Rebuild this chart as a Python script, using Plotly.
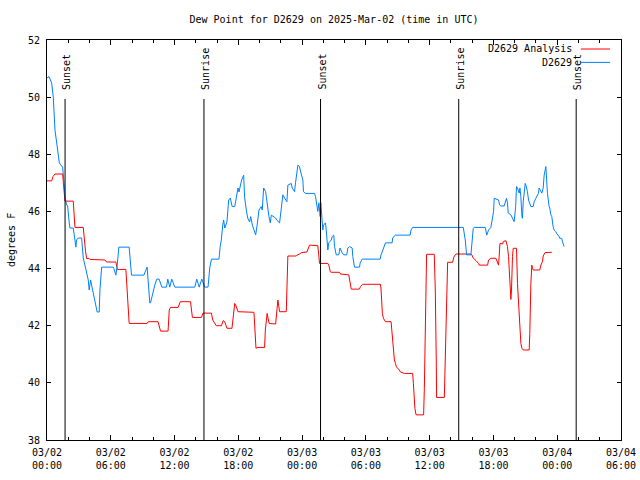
import pandas as pd
import plotly.graph_objects as go

START = pd.Timestamp("2025-03-02 00:00")

# D2629 observations: hours after 2025-03-02 00:00 UTC, dew point (F)
obs_hours = [0.00, 0.19, 0.44, 0.59, 0.75, 0.91, 1.06, 1.16, 1.29, 1.47, 1.60, 1.69, 1.85, 1.94, 2.09, 2.16,
             2.47, 2.63, 2.72, 2.78, 2.94, 3.26, 3.41, 3.63, 3.88, 3.97, 4.10, 4.20, 4.29, 4.51, 4.60, 4.72,
             4.91, 4.98, 5.14, 6.23, 6.29, 6.48, 6.60, 6.76, 7.73, 7.95, 9.11, 9.42, 9.67, 9.74, 10.14, 10.33,
             10.55, 10.80, 11.24, 11.36, 11.55, 11.74, 12.02, 13.90, 14.09, 14.32, 14.56, 14.74, 14.84, 15.15,
             15.31, 15.47, 16.18, 16.29, 16.40, 16.53, 16.62, 16.72, 16.93, 17.09, 17.25, 17.32, 17.42, 17.66,
             17.80, 17.97, 18.06, 18.19, 18.31, 18.50, 18.59, 18.75, 18.88, 19.06, 19.16, 19.32, 19.44, 19.63,
             19.77, 19.84, 19.94, 20.16, 20.25, 20.38, 20.57, 20.63, 20.78, 20.88, 21.01, 21.10, 21.51, 21.60,
             21.88, 22.04, 22.19, 22.35, 22.57, 22.66, 22.98, 23.07, 23.29, 23.38, 23.51, 23.60, 23.76, 23.82,
             24.07, 24.13, 24.32, 25.17, 25.26, 25.48, 25.58, 25.70, 25.76, 25.83, 25.95, 26.01, 26.20, 26.27,
             26.42, 26.51, 26.74, 26.83, 26.98, 27.05, 27.21, 27.45, 27.57, 27.77, 27.92, 28.20, 28.30, 28.46,
             28.71, 28.77, 28.93, 29.40, 29.46, 29.65, 31.34, 31.43, 31.74, 31.84, 32.47, 32.52, 32.68, 32.78,
             34.16, 34.25, 34.40, 39.16, 39.35, 39.47, 39.88, 40.10, 40.19, 41.23, 41.37, 41.54, 41.76, 41.86,
             42.01, 42.07, 42.48, 42.59, 42.70, 43.01, 43.10, 43.23, 43.32, 43.39, 43.64, 43.86, 43.95, 44.09,
             44.17, 44.26, 44.42, 44.49, 44.58, 44.68, 44.73, 44.80, 44.99, 45.08, 45.20, 45.30, 45.52, 45.74,
             45.83, 45.99, 46.05, 46.23, 46.30, 46.46, 46.55, 46.68, 46.77, 46.93, 46.99, 47.08, 47.24, 47.30,
             47.40, 47.49, 47.61, 47.71, 47.87, 47.92, 48.18, 48.24, 48.43, 48.49, 48.65]
obs_values = [50.67, 50.72, 50.49, 50.0, 48.85, 48.4, 48.05, 47.7, 47.63, 47.55, 47.0, 46.5, 46.22, 46.2, 45.6, 45.42,
              45.42, 44.93, 44.75, 45.0, 45.07, 45.07, 44.37, 44.02, 43.6, 43.25, 43.6, 43.42, 43.25, 42.9, 42.72, 42.48,
              42.48, 43.25, 44.05, 44.05, 44.0, 43.77, 44.1, 44.75, 44.75, 43.77, 43.77, 44.05, 42.8, 42.8, 43.42, 43.63,
              43.63, 43.35, 43.35, 43.63, 43.35, 43.63, 43.35, 43.35, 43.63, 43.35, 43.63, 43.42, 43.35, 43.35,
              44.02, 44.33, 44.33, 44.77, 45.0, 45.52, 45.7, 45.42, 45.63, 46.4, 46.47, 46.33, 46.17, 46.17,
              46.5, 46.82, 46.68, 46.87, 47.1, 47.27, 46.5, 46.05, 45.77, 45.63, 45.82, 45.52, 45.35, 45.18,
              45.52, 45.7, 46.05, 46.17, 46.05, 46.82, 46.69, 46.52, 46.05, 45.82, 45.6, 45.87, 45.77, 45.7,
              45.6, 46.17, 46.58, 46.47, 46.34, 46.92, 46.98, 46.82, 46.69, 47.0, 47.34, 47.62, 47.57, 47.45,
              47.1, 46.69, 46.63, 46.63, 46.52, 46.0, 46.3, 45.82, 46.3, 45.82, 45.35, 45.52, 45.6, 45.35,
              44.65, 44.9, 45.0, 45.12, 45.17, 44.77, 44.48, 44.48, 44.72, 44.55, 44.48, 44.48, 44.72, 44.77,
              44.72, 44.42, 44.05, 44.05, 44.2, 44.33, 44.33, 44.48, 44.77, 44.9, 44.9, 45.07, 45.14, 45.17,
              45.17, 45.35, 45.44, 45.44, 45.0, 44.48, 44.48, 45.41, 45.44, 45.44, 45.17, 45.35, 45.44, 45.64,
              45.99, 46.46, 46.4, 46.22, 46.19, 46.19, 46.34, 46.46, 46.3, 45.95, 45.88, 45.7, 45.64, 46.17,
              46.87, 46.82, 46.64, 46.82, 46.52, 45.82, 45.76, 46.34, 46.98, 46.89, 46.69, 46.4, 46.17, 46.17,
              46.34, 46.46, 46.52, 46.63, 46.82, 46.69, 46.64, 46.82, 47.27, 47.57, 47.22, 46.63, 46.17, 46.12,
              45.88, 45.82, 45.47, 45.35, 45.29, 45.24, 45.12, 45.06, 45.06, 44.94, 44.77]

# D2629 Analysis: hours after 2025-03-02 00:00 UTC, dew point (F)
ana_hours = [0.00, 0.44, 0.56, 0.75, 1.47, 1.53, 1.60, 1.69, 2.47, 2.63, 3.41, 3.63, 3.73, 3.97, 4.04, 5.45,
             5.61, 6.48, 6.62, 7.42, 7.56, 7.64, 7.73, 9.42, 9.53, 10.45, 10.68, 11.39, 11.50, 11.62, 12.33, 12.54,
             13.50, 13.68, 14.53, 14.68, 15.47, 15.59, 15.78, 15.92, 16.41, 16.58, 16.72, 16.86, 16.93, 17.40,
             17.53, 17.66, 17.75, 17.89, 17.97, 19.47, 19.58, 19.66, 19.84, 20.47, 20.54, 20.63, 20.71, 20.80,
             20.90, 21.51, 21.60, 21.72, 21.79, 21.88, 22.51, 22.57, 22.66, 23.45, 23.52, 23.76, 23.95, 24.45,
             24.57, 24.70, 25.48, 25.54, 25.64, 26.42, 26.51, 26.65, 26.74, 27.52, 27.61, 28.39, 28.46, 28.62,
             29.39, 29.49, 29.70, 31.37, 31.43, 31.55, 31.65, 31.84, 32.37, 32.43, 32.59, 32.68, 32.78, 32.87,
             33.15, 33.25, 33.62, 34.40, 34.47, 34.61, 34.72, 35.43, 35.50, 35.59, 35.66, 35.71, 36.43, 36.53,
             36.62, 36.65, 37.38, 37.42, 37.52, 37.59, 37.69, 38.16, 38.27, 38.41, 38.48, 39.88, 39.97, 40.10,
             40.29, 40.38, 40.60, 40.66, 41.45, 41.54, 41.76, 42.23, 42.29, 42.48, 42.54, 42.61, 42.86, 42.92,
             43.17, 43.23, 43.32, 43.42, 43.48, 43.55, 43.64, 43.70, 43.73, 43.79, 43.86, 44.17, 44.26, 44.38,
             44.49, 44.58, 44.68, 44.80, 45.36, 45.42, 45.52, 45.61, 45.67, 45.74, 46.36, 46.46, 46.61, 46.68,
             46.86, 47.49]
ana_values = [47.07, 47.07, 47.22, 47.31, 47.31, 46.82, 46.75, 46.36, 46.36, 45.44, 45.44, 44.59, 44.35, 44.35, 44.32, 44.3,
              44.23, 44.23, 43.97, 43.97, 43.25, 42.55, 42.08, 42.08, 42.14, 42.14, 41.81, 41.81, 42.55, 42.64, 42.64, 42.84,
              42.84, 42.29, 42.29, 42.44, 42.44, 42.2, 42.08, 42.0, 42.0, 42.18, 42.14, 41.97, 41.91, 41.91,
              42.32, 42.78, 42.72, 42.58, 42.49, 42.47, 41.85, 41.21, 41.24, 41.24, 41.85, 42.32, 42.43, 42.26,
              42.08, 42.06, 42.49, 42.9, 42.72, 42.49, 42.49, 43.95, 44.44, 44.44, 44.47, 44.51, 44.56, 44.58,
              44.71, 44.82, 44.8, 44.48, 44.18, 44.18, 44.12, 43.89, 43.87, 43.87, 43.81, 43.78, 43.6, 43.28,
              43.28, 43.37, 43.45, 43.45, 43.25, 42.43, 42.26, 42.14, 42.14, 41.85, 41.38, 40.8, 40.68, 40.56,
              40.45, 40.38, 40.33, 40.33, 39.98, 39.11, 38.88, 38.88, 39.81, 41.73, 43.53, 44.5, 44.5, 43.25,
              40.8, 39.49, 39.49, 40.27, 41.85, 43.48, 44.22, 44.22, 44.4, 44.48, 44.51, 44.51, 44.48, 44.37,
              44.32, 44.27, 44.18, 44.12, 44.12, 44.3, 44.36, 44.36, 44.3, 44.12, 44.42, 44.88, 44.86, 44.94,
              44.98, 44.9, 44.77, 44.42, 43.83, 43.5, 42.92, 43.25, 43.83, 44.42, 44.71, 44.71, 43.48, 42.55,
              41.73, 41.38, 41.21, 41.15, 41.15, 41.73, 43.48, 44.12, 44.01, 43.95, 43.95, 44.12, 44.24, 44.44,
              44.56, 44.57]

# Sun events (UTC)
sun_labels = ["Sunset", "Sunrise", "Sunset", "Sunrise", "Sunset"]
sun_times = ["2025-03-02 01:42", "2025-03-02 14:46", "2025-03-03 01:44", "2025-03-03 14:44", "2025-03-04 01:47"]

series_names = ["D2629 Analysis", "D2629"]
series_colors = ["#ff0000", "#0080ff"]

FONT = "DejaVu Sans Mono"

obs_t = START + pd.to_timedelta(obs_hours, unit="h")
ana_t = START + pd.to_timedelta(ana_hours, unit="h")

fig = go.Figure()
fig.add_trace(go.Scatter(x=ana_t, y=ana_values, mode="lines", name=series_names[0],
                         line=dict(color=series_colors[0], width=1), showlegend=False))
fig.add_trace(go.Scatter(x=obs_t, y=obs_values, mode="lines", name=series_names[1],
                         line=dict(color=series_colors[1], width=1), showlegend=False))

shapes = []
annotations = []
for lab, t in zip(sun_labels, sun_times):
    shapes.append(dict(type="line", xref="x", yref="paper", x0=t, x1=t, y0=0, y1=0.8525,
                       line=dict(color="black", width=1)))
    annotations.append(dict(x=t, y=0.87, xref="x", yref="paper", text=lab, textangle=-90,
                            showarrow=False, xanchor="center", yanchor="bottom", xshift=1,
                            font=dict(family=FONT, size=10, color="black")))

# legend (gnuplot style: text right-aligned, sample to the right)
leg_y = [0.9775, 0.944]
for name, col, ly in zip(series_names, series_colors, leg_y):
    annotations.append(dict(x=0.918, y=ly, xref="paper", yref="paper", text=name, showarrow=False,
                            xanchor="right", yanchor="middle", font=dict(family=FONT, size=10, color="black")))
    shapes.append(dict(type="line", xref="paper", yref="paper", x0=0.930, x1=0.981, y0=ly, y1=ly,
                       line=dict(color=col, width=1)))

annotations.append(dict(x=-0.0627, y=0.5, xref="paper", yref="paper", text="degrees F", textangle=-90,
                        showarrow=False, xanchor="center", yanchor="middle",
                        font=dict(family=FONT, size=10, color="black")))

fig.update_layout(
    width=640, height=480,
    margin=dict(l=47, r=19, t=40, b=40, pad=0, autoexpand=False),
    paper_bgcolor="white", plot_bgcolor="white",
    font=dict(family=FONT, size=10, color="black"),
    title=dict(text="Dew Point for D2629 on 2025-Mar-02 (time in UTC)", x=0.5, xref="paper",
               y=1 - 19 / 480, yref="container", yanchor="middle", xanchor="center",
               font=dict(family=FONT, size=10, color="black")),
    shapes=shapes, annotations=annotations, showlegend=False,
)
fig.update_xaxes(type="date", range=["2025-03-02 00:00", "2025-03-04 06:00"], automargin=False,
                 dtick=6 * 3600 * 1000, tick0="2025-03-02 00:00", tickformat="%m/%d<br>%H:%M",
                 ticks="inside", ticklen=5, tickcolor="black", showline=True, linecolor="black",
                 linewidth=1, mirror="allticks", showgrid=False, zeroline=False, ticklabelstandoff=3,
                 minor=dict(dtick=2 * 3600 * 1000, ticks="inside", ticklen=3, tickcolor="black", showgrid=False),
                 tickfont=dict(family=FONT, size=10, color="black"))
fig.update_yaxes(range=[38, 52], dtick=2, ticks="inside", ticklen=4, tickcolor="black", automargin=False,
                 showline=True, linecolor="black", linewidth=1, mirror="allticks", ticklabelstandoff=4,
                 showgrid=False, zeroline=False, tickfont=dict(family=FONT, size=10, color="black"))

# remove the default 8px page margin so the 640x480 figure fills the window exactly
fig.write_html("out.html", config={"displayModeBar": False},
               post_script="document.body.style.margin='0';document.body.style.overflow='hidden';")
